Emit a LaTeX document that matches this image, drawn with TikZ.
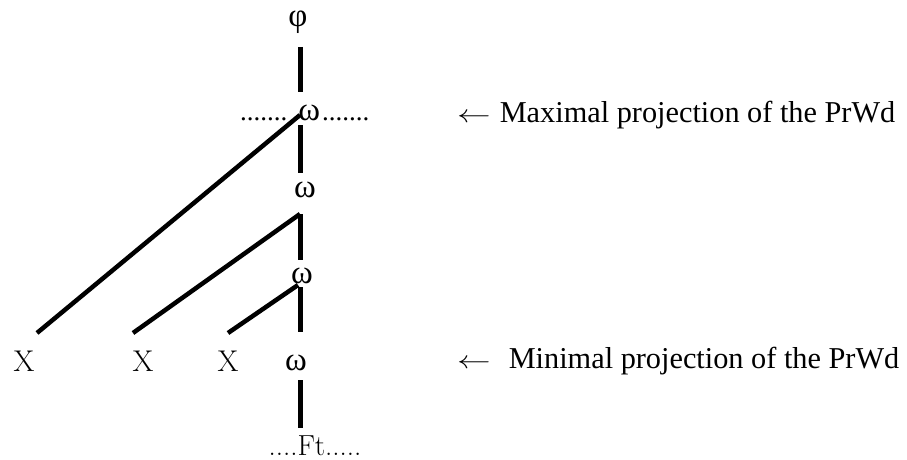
\documentclass[tikz,border=0pt]{standalone}
\usepackage{fontspec}
\usepackage{graphicx}
\newfontfamily\grk{Liberation Serif}
\newcommand{\larr}{\scalebox{1.35}[1]{$\leftarrow$}}
\begin{document}
\begin{tikzpicture}[x=1pt,y=-1pt,
  edge/.style={line width=4.5pt},
  gk/.style={inner sep=0pt, font=\grk\fontsize{33}{38}\selectfont},
  lm/.style={inner sep=0pt, anchor=base, font=\fontsize{30}{36}\selectfont},
  note/.style={inner sep=0pt, anchor=base west, font=\grk\fontsize{30.3}{34}\selectfont}]
\useasboundingbox (0,0) rectangle (907,460);
% nodes
\node[gk] (phi) at (298,22) {φ};
\node[gk, anchor=base west] (w1) at (240,120) {{\fontsize{27}{30}\selectfont .......}\hspace{11pt}ω\hspace{2pt}{\fontsize{27}{30}\selectfont .......}};
\node[gk] (w2) at (305,190) {ω};
\node[gk] (w3) at (302,276) {ω};
\node[gk] (w4) at (296,363) {ω};
\node[lm] (x1) at (24,371) {X};
\node[lm] (x2) at (143,371) {X};
\node[lm] (x3) at (228,371) {X};
\node[lm, font=\fontsize{29}{34}\selectfont] (ft) at (315,455) {....Ft.....};
\node[note] (max) at (457,122) {\larr\hspace{9pt}Maximal projection of the PrWd};
\node[note] (min) at (457,368) {\larr\hspace{18pt}Minimal projection of the PrWd};
% connector ends
\coordinate (phiB) at (300.5,47);
\coordinate (w1T) at (300.5,92);
\coordinate (w1B) at (300.5,125);
\coordinate (w1D) at (300,115);
\coordinate (w2T) at (300.5,173);
\coordinate (w2B) at (300.5,214);
\coordinate (w2D) at (300,214);
\coordinate (w3T) at (300.5,260);
\coordinate (w3B) at (300.5,287);
\coordinate (w3D) at (298,285);
\coordinate (w4T) at (300.5,332);
\coordinate (w4B) at (300.5,380);
\coordinate (ftT) at (300.5,428);
\coordinate (x1T) at (37,333);
\coordinate (x2T) at (133,333);
\coordinate (x3T) at (228,333);
% connectors
\draw[edge] (phiB) -- (w1T);
\draw[edge] (w1B) -- (w2T);
\draw[edge] (w2B) -- (w3T);
\draw[edge] (w3B) -- (w4T);
\draw[edge] (w4B) -- (ftT);
\draw[edge] (w1D) -- (x1T);
\draw[edge] (w2D) -- (x2T);
\draw[edge] (w3D) -- (x3T);
\end{tikzpicture}
\end{document}
